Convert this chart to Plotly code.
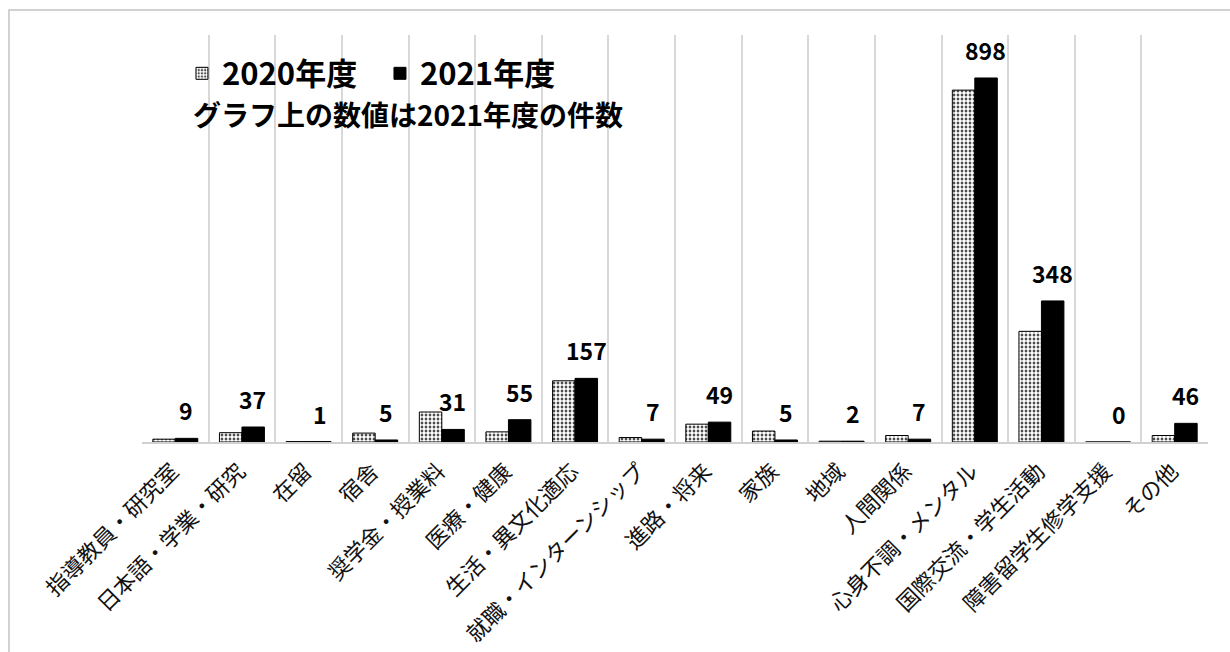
import plotly.graph_objects as go

categories = [
    "指導教員・研究室", "日本語・学業・研究", "在留", "宿舎", "奨学金・授業料",
    "医療・健康", "生活・異文化適応", "就職・インターンシップ", "進路・将来", "家族",
    "地域", "人間関係", "心身不調・メンタル", "国際交流・学生活動",
    "障害留学生修学支援", "その他",
]
counts_2020 = [7, 23, 1, 22, 74, 25, 151, 11, 44, 27, 2, 16, 868, 273, 0, 16]
counts_2021 = [9, 37, 1, 5, 31, 55, 157, 7, 49, 5, 2, 7, 898, 348, 0, 46]
series_names = ["2020年度", "2021年度"]
note_text = "グラフ上の数値は2021年度の件数"

JP = "Noto Sans CJK JP"

fig = go.Figure()
fig.add_trace(go.Bar(
    x=categories, y=counts_2020, name=series_names[0],
    marker=dict(
        color="black",
        line=dict(color="black", width=1),
        pattern=dict(shape=".", fgcolor="white", bgcolor="black",
                     size=4, solidity=0.75, fillmode="replace"),
    ),
))
fig.add_trace(go.Bar(
    x=categories, y=counts_2021, name=series_names[1],
    marker=dict(color="black", line=dict(color="black", width=1)),
))

# value labels above the 2021 bars
for cat, val in zip(categories, counts_2021):
    fig.add_annotation(
        x=cat, y=val, xref="x", yref="y", text=str(val), showarrow=False,
        xshift=11, yshift=9, yanchor="bottom",
        font=dict(family=JP, size=23, color="black", weight="bold"),
    )

# note under the legend
fig.add_annotation(
    x=0.046, y=0.805, xref="paper", yref="paper", text=note_text,
    showarrow=False, xanchor="left", yanchor="middle",
    font=dict(family=JP, size=28, color="black", weight="bold"),
)

# outer chart frame
fig.add_shape(
    type="rect", xref="paper", yref="paper",
    x0=-0.1248, x1=1.2, y0=-0.6, y1=1.0614,
    line=dict(color="#c4c4c4", width=1.5), fillcolor="rgba(0,0,0,0)", layer="below",
)

fig.update_layout(
    width=1230, height=652,
    margin=dict(l=142, r=22, t=35, b=210, autoexpand=False),
    paper_bgcolor="white", plot_bgcolor="white",
    barmode="group", bargap=0.325, bargroupgap=0,
    showlegend=True,
    legend=dict(
        orientation="h", x=0.0375, y=0.905, xanchor="left", yanchor="middle",
        font=dict(family=JP, size=31, color="black", weight="bold"),
        bgcolor="rgba(0,0,0,0)", itemwidth=30, tracegroupgap=0,
        entrywidth=153, entrywidthmode="pixels",
    ),
    xaxis=dict(
        type="category", tickangle=-45, tickson="boundaries", automargin=False,
        showgrid=True, gridcolor="#d8d8d8", gridwidth=2,
        showline=True, linecolor="#d0d0d0", linewidth=1.5,
        ticks="", ticklabelshift=-3, ticklabelstandoff=6,
        tickfont=dict(family=JP, size=22, color="#111111"),
    ),
    yaxis=dict(range=[0, 1004], visible=False, showgrid=False, zeroline=False,
               automargin=False),
)

fig.write_html("out.html")
